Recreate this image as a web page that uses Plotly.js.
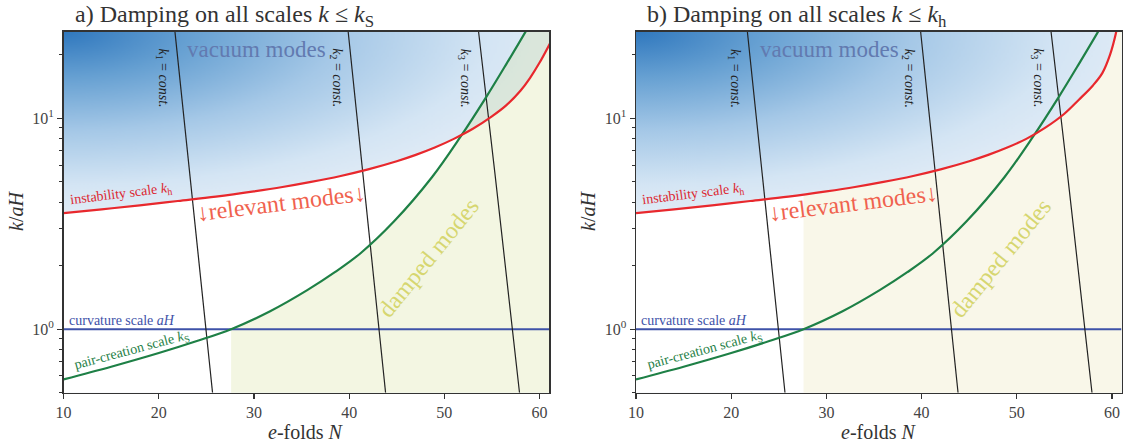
<!DOCTYPE html>
<html>
<head>
<meta charset="utf-8">
<script src="https://cdn.plot.ly/plotly-3.0.1.min.js"></script>
<style>html,body{margin:0;padding:0;background:#fff;}#plot{width:1129px;height:444px;}</style>
</head>
<body>
<div id="plot"></div>
<script>
// ---------- data ----------
// instability scale k_h (panel a)
const redA_N = [10, 14, 18, 22, 26, 30, 33, 36, 39, 42, 45, 47, 49, 51, 53, 55, 56.5, 58, 59, 60, 61.1];
const redA_k = [3.55, 3.70, 3.86, 4.05, 4.25, 4.50, 4.72, 4.99, 5.31, 5.72, 6.25, 6.70, 7.26, 7.98, 8.91, 10.2, 11.5, 13.5, 15.5, 18.3, 22.6];
// instability scale k_h (panel b)
const redB_N = [10, 14, 18, 22, 26, 30, 33, 36, 39, 42, 45, 47, 49, 51, 53, 55, 56.5, 58, 59, 59.8, 60.4, 60.9];
const redB_k = [3.55, 3.70, 3.86, 4.05, 4.25, 4.50, 4.72, 4.99, 5.31, 5.72, 6.25, 6.70, 7.26, 7.98, 9.02, 10.5, 12.2, 14.3, 16.4, 20.0, 25.1, 33.1];
// pair-creation scale k_S
const green_N = [10, 15, 20, 24, 27.6, 31.7, 35.6, 38.5, 41.2, 44.7, 48.7, 51.6, 54.4, 56.5, 58.6, 59.6];
const green_k = [0.578, 0.664, 0.771, 0.879, 1.0, 1.216, 1.531, 1.862, 2.291, 3.236, 5.248, 8.035, 12.59, 18.0, 26.0, 31.3];
// curvature scale aH
const blue_N = [10, 61];
const blue_k = [1, 1];
// k = const. lines
const k1_N = [21.7, 25.65], k1_k = [25.7, 0.5];
const k2_N = [39.9, 43.83], k2_k = [25.7, 0.5];
const k3_N = [53.6, 55.3, 57.15, 57.9], k3_k = [25.7, 5.57, 1.0, 0.5];
// damped regions (start where k_S = aH)
const dampStart = 27.6;
const dampA_N = green_N.filter(n => n >= dampStart).concat([61.5]);
const dampA_k = green_k.filter((k, i) => green_N[i] >= dampStart).concat([31.3]);
const dampB_N = [dampStart].concat(redB_N.filter(n => n > dampStart), [61.5]);
const dampB_k = [4.38].concat(redB_k.filter((k, i) => redB_N[i] > dampStart), [33.1]);

const xTicks = [10, 20, 30, 40, 50, 60];
const yMajor = [1, 10];
const yMajorText = ['10<sup>0</sup>', '10<sup>1</sup>'];
const yMinor = [0.5, 0.6, 0.7, 0.8, 0.9, 2, 3, 4, 5, 6, 7, 8, 9, 20];

// ---------- layout geometry ----------
const W = 1129, H = 444;
const domL = [63.6 / W, 549 / W];
const domR = [636 / W, 1121.5 / W];
const domY = [1 - 392.7 / H, 1 - 31.7 / H];
const FONT = "'Liberation Serif', 'Times New Roman', serif";

function gradient(wpx, hpx) {
  const c = document.createElement('canvas');
  c.width = wpx; c.height = hpx;
  const ctx = c.getContext('2d');
  ctx.fillStyle = 'rgb(224,235,246)';
  ctx.fillRect(0, 0, wpx, hpx);
  const Rx = 500, Ry = 180;
  ctx.save();
  ctx.scale(Rx / Ry, 1);
  const g = ctx.createRadialGradient(0, 0, 0, 0, 0, Ry);
  g.addColorStop(0, 'rgb(48,120,190)');
  g.addColorStop(0.25, 'rgb(102,160,210)');
  g.addColorStop(0.55, 'rgb(165,200,231)');
  g.addColorStop(0.85, 'rgb(212,229,244)');
  g.addColorStop(1, 'rgb(224,235,246)');
  ctx.fillStyle = g;
  ctx.fillRect(0, 0, wpx * Ry / Rx + 2, hpx);
  ctx.restore();
  return c.toDataURL();
}
const gradSrc = gradient(486, 361);

function panelTraces(xa, ya, redN, redK, dampN, dampK, dampColor) {
  const ax = {xaxis: xa, yaxis: ya, hoverinfo: 'skip', showlegend: false};
  const sp = {shape: 'spline', smoothing: 1};
  return [
    Object.assign({x: redN, y: redK, mode: 'lines', line: Object.assign({width: 0}, sp),
      fill: 'tozeroy', fillcolor: '#ffffff'}, ax),
    Object.assign({x: dampN, y: dampK, mode: 'lines', line: Object.assign({width: 0}, sp),
      fill: 'tozeroy', fillcolor: dampColor}, ax),
    Object.assign({x: blue_N, y: blue_k, mode: 'lines', line: {color: 'rgb(62,82,168)', width: 2}}, ax),
    Object.assign({x: k1_N, y: k1_k, mode: 'lines', line: {color: '#222', width: 1.2}}, ax),
    Object.assign({x: k2_N, y: k2_k, mode: 'lines', line: {color: '#222', width: 1.2}}, ax),
    Object.assign({x: k3_N, y: k3_k, mode: 'lines', line: Object.assign({color: '#222', width: 1.2}, sp)}, ax),
    Object.assign({x: green_N, y: green_k, mode: 'lines', line: Object.assign({color: 'rgb(30,128,70)', width: 2.2}, sp)}, ax),
    Object.assign({x: redN, y: redK, mode: 'lines', line: Object.assign({color: 'rgb(232,40,45)', width: 2.2}, sp)}, ax)
  ];
}

const data = [].concat(
  panelTraces('x', 'y', redA_N, redA_k, dampA_N, dampA_k, 'rgba(214,226,160,0.3)'),
  panelTraces('x2', 'y2', redB_N, redB_k, dampB_N, dampB_k, 'rgb(249,247,233)')
);

function xaxis(dom, anchor) {
  return {domain: dom, anchor: anchor, range: [10, 61], tickvals: xTicks, ticks: 'outside', ticklen: 5,
    tickwidth: 1.2, tickcolor: '#333', showline: true, linecolor: '#333', linewidth: 1.5, mirror: true,
    showgrid: false, zeroline: false, tickfont: {family: FONT, size: 16, color: '#444'}};
}
function yaxis(anchor) {
  return {domain: domY, anchor: anchor, type: 'log', range: [Math.log10(0.5), Math.log10(25.7)],
    tickmode: 'array', tickvals: yMajor, ticktext: yMajorText, ticks: 'outside', ticklen: 5,
    tickwidth: 1.2, tickcolor: '#333', showline: true, linecolor: '#333', linewidth: 1.5, mirror: true,
    showgrid: false, zeroline: false, tickfont: {family: FONT, size: 16, color: '#444'},
    minor: {tickmode: 'array', tickvals: yMinor, ticks: 'outside', ticklen: 3, tickwidth: 1, tickcolor: '#333', showgrid: false}};
}

function lg(v) { return Math.log10(v); }
function panelAnn(xr, yr, px0, titleText) {
  const a = [];
  const t = (text, x, y, size, color, angle) => a.push({
    text: text, x: x, y: y, xref: xr, yref: yr, showarrow: false, textangle: angle || 0,
    xanchor: 'center', yanchor: 'middle',
    font: {family: FONT, size: size, color: color}});
  t('vacuum modes', 30.3, lg(21.1), 23, 'rgb(98,122,176)');
  t('↓relevant modes↓', 32.8, lg(3.97), 24, 'rgb(240,98,78)', -7);
  t('damped modes', 48.3, lg(2.18), 24, 'rgb(214,214,112)', -51);
  t('instability scale <i>k</i><sub>h</sub>', 16.0, lg(4.37), 14, 'rgb(220,40,50)', -7);
  t('curvature scale <i>aH</i>', 16.1, lg(1.105), 14, 'rgb(62,82,168)', 0);
  t('pair-creation scale <i>k</i><sub>S</sub>', 17.2, lg(0.79), 14, 'rgb(30,128,70)', -15);
  t('<i>k</i><sub>1</sub> = <i>const.</i>', 20.4, lg(15.5), 14, '#222', 90);
  t('<i>k</i><sub>2</sub> = <i>const.</i>', 38.7, lg(15.5), 14, '#222', 90);
  t('<i>k</i><sub>3</sub> = <i>const.</i>', 52.2, lg(15.5), 14, '#222', 90);
  a.push({text: titleText, xref: 'paper', yref: 'paper', x: (px0 + 9) / W, y: 1 - 16 / H, xanchor: 'left',
    yanchor: 'middle', showarrow: false, font: {family: FONT, size: 24, color: '#333'}});
  return a;
}

function paperText(text, px, py, angle) {
  return {text: text, xref: 'paper', yref: 'paper', x: px / W, y: 1 - py / H, xanchor: 'center', yanchor: 'middle',
    textangle: angle || 0, showarrow: false, font: {family: FONT, size: 20, color: '#333'}};
}

const annotations = [].concat(
  panelAnn('x', 'y', 63.6, 'a) Damping on all scales <i>k</i> ≤ <i>k</i><sub>S</sub>'),
  panelAnn('x2', 'y2', 636, 'b) Damping on all scales <i>k</i> ≤ <i>k</i><sub>h</sub>'),
  [
    paperText('<i>k</i>/<i>aH</i>', 16, 211, -90),
    paperText('<i>k</i>/<i>aH</i>', 588, 211, -90),
    paperText('<i>e</i>-folds <i>N</i>', 306, 432, 0),
    paperText('<i>e</i>-folds <i>N</i>', 879, 432, 0)
  ]
);

const images = [domL, domR].map(d => ({source: gradSrc, xref: 'paper', yref: 'paper', x: d[0], y: domY[1],
  sizex: d[1] - d[0], sizey: domY[1] - domY[0], sizing: 'stretch', xanchor: 'left', yanchor: 'top', layer: 'below'}));

const layout = {
  width: W, height: H, margin: {l: 0, r: 0, t: 0, b: 0},
  paper_bgcolor: '#ffffff', plot_bgcolor: 'rgba(0,0,0,0)',
  font: {family: FONT},
  xaxis: xaxis(domL, 'y'), yaxis: yaxis('x'),
  xaxis2: xaxis(domR, 'y2'), yaxis2: yaxis('x2'),
  annotations: annotations, images: images, showlegend: false
};

Plotly.newPlot('plot', data, layout, {displayModeBar: false, staticPlot: true});
</script>
</body>
</html>
